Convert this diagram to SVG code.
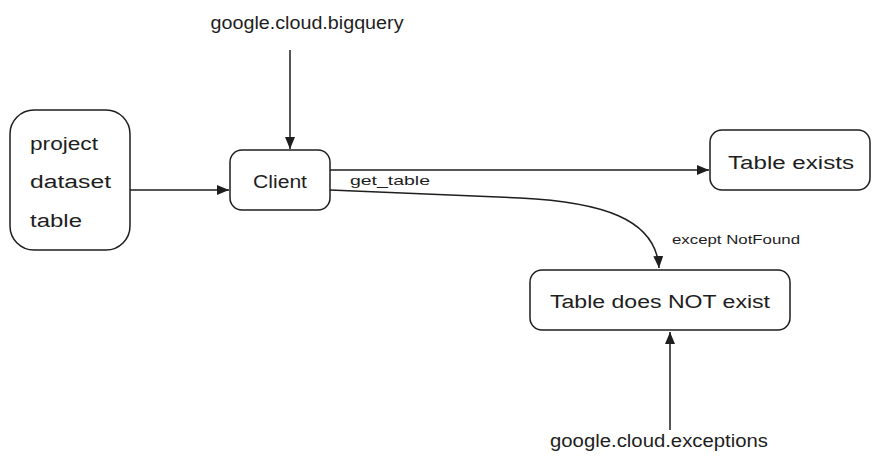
<svg xmlns="http://www.w3.org/2000/svg" width="880" height="465" viewBox="0 0 880 465">
<style>
.box{fill:#fff;stroke:#1e1e1e;stroke-width:1.5}
.t{font-family:"Liberation Sans",Arial,sans-serif;fill:#1e1e1e;font-size:18px}
.s{font-family:"Liberation Sans",Arial,sans-serif;fill:#1e1e1e;font-size:13px}
.c{fill:none;stroke:#1e1e1e;stroke-width:1.5}
</style>
<defs>
<marker id="ah" viewBox="0 0 12 10" refX="12" refY="5" markerWidth="12" markerHeight="10" markerUnits="userSpaceOnUse" orient="auto">
<path d="M0,0 L12,5 L0,10 Z" fill="#1e1e1e"/>
</marker>
</defs>
<rect width="880" height="465" fill="#fff"/>
<g id="connectors">
<path class="c" d="M130,190 L229,190" marker-end="url(#ah)"/>
<path class="c" d="M290,50 L290,149" marker-end="url(#ah)"/>
<path class="c" d="M330,170 L709,170" marker-end="url(#ah)"/>
<path class="c" d="M330,190 L520,198 C600,202 656,218 659,268" marker-end="url(#ah)"/>
<path class="c" d="M670,430 L670,332" marker-end="url(#ah)"/>
<text class="s" x="350" y="185" textLength="80" lengthAdjust="spacingAndGlyphs">get_table</text>
<text class="s" x="672" y="244" textLength="128" lengthAdjust="spacingAndGlyphs">except NotFound</text>
</g>
<g id="inputs">
<rect class="box" x="10" y="110" width="120" height="140" rx="24"/>
<text class="t" x="30" y="150" textLength="68" lengthAdjust="spacingAndGlyphs">project</text>
<text class="t" x="30" y="188" textLength="81" lengthAdjust="spacingAndGlyphs">dataset</text>
<text class="t" x="30" y="227" textLength="52" lengthAdjust="spacingAndGlyphs">table</text>
</g>
<g id="bigquery">
<text class="t" x="307" y="29" text-anchor="middle" textLength="193" lengthAdjust="spacingAndGlyphs">google.cloud.bigquery</text>
</g>
<g id="client">
<rect class="box" x="230" y="150" width="100" height="60" rx="12"/>
<text class="t" x="280" y="188" text-anchor="middle" textLength="54" lengthAdjust="spacingAndGlyphs">Client</text>
</g>
<g id="exists">
<rect class="box" x="710" y="130" width="160" height="60" rx="12"/>
<text class="t" x="791" y="169" text-anchor="middle" textLength="126" lengthAdjust="spacingAndGlyphs">Table exists</text>
</g>
<g id="notexist">
<rect class="box" x="530" y="270" width="260" height="60" rx="12"/>
<text class="t" x="660" y="308" text-anchor="middle" textLength="220" lengthAdjust="spacingAndGlyphs">Table does NOT exist</text>
</g>
<g id="exceptions">
<text class="t" x="659" y="447" text-anchor="middle" textLength="218" lengthAdjust="spacingAndGlyphs">google.cloud.exceptions</text>
</g>
</svg>
